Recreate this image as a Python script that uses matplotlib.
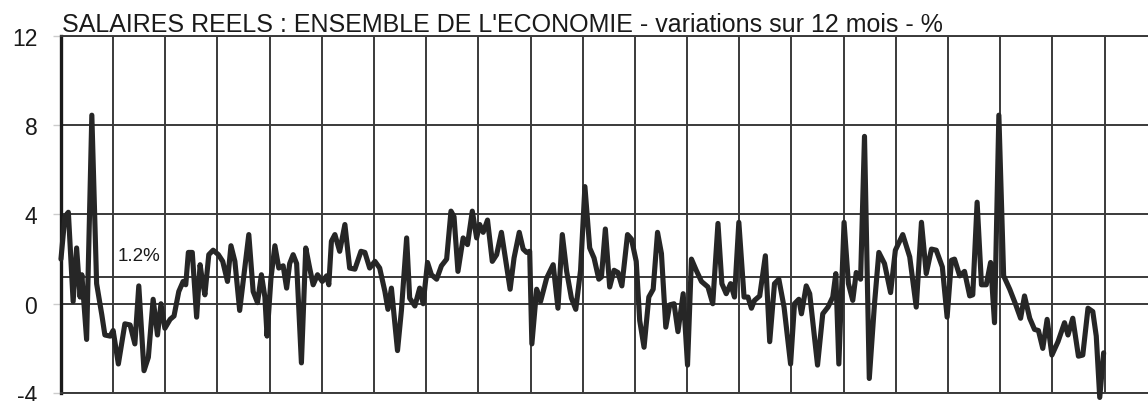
import matplotlib
matplotlib.use("Agg")
import matplotlib.pyplot as plt

plt.rcParams["font.family"] = ["Liberation Sans", "DejaVu Sans"]
plt.rcParams["axes.unicode_minus"] = False

# months since start of the series and the 12-month change in %
months = [0, 0.9, 1.7, 2.8, 3.6, 4.4, 4.8, 5.9, 7.1, 8.2, 9.4, 10.1, 11.3, 12.0, 13.2,
          14.7, 15.9, 17.0, 17.9, 19.1, 20.1, 21.2, 22.2, 23.0, 23.9, 25.1, 26.0, 27.1,
          28.1, 28.7, 29.3, 30.2, 31.2, 32.0, 32.4, 33.1, 34.0, 35.0, 36.2, 37.2, 38.3,
          39.1, 40.0, 41.1, 42.1, 43.2, 44.2, 45.2, 46.1, 46.9, 47.4, 48.3, 49.2, 50.1,
          51.1, 51.9, 52.6, 53.4, 54.2, 55.3, 56.3, 57.2, 58.0, 59.0, 60.1, 61.1, 61.6,
          62.2, 63.0, 64.1, 65.3, 66.4, 67.6, 69.0, 69.9, 71.0, 72.2, 73.3, 74.5, 75.2,
          76.0, 77.4, 78.3, 79.5, 80.2, 81.4, 82.5, 83.3, 84.3, 85.2, 86.4, 87.5, 88.7,
          89.7, 90.4, 91.3, 92.5, 93.5, 94.6, 95.6, 96.3, 97.1, 98.1, 99.2, 100.2, 101.3,
          102.2, 103.3, 104.2, 105.4, 106.3, 107.1, 107.8, 108.3, 109.4, 110.3, 111.7,
          113.2, 114.3, 115.3, 116.3, 117.4, 118.4, 119.5, 120.5, 121.6, 122.6, 123.7,
          124.3, 125.2, 126.2, 127.2, 128.1, 129.0, 130.3, 131.2, 132.3, 133.1, 134.1,
          135.2, 136.2, 137.2, 138.1, 139.1, 140.0, 141.0, 141.9, 143.1, 144.1, 145.0,
          146.1, 147.3, 148.8, 149.9, 151.1, 152.0, 153.0, 154.0, 154.9, 155.9, 157.1,
          158.0, 158.8, 159.5, 160.7, 162.0, 163.0, 164.1, 165.1, 166.3, 167.8, 168.7,
          169.7, 170.3, 171.4, 172.2, 174.0, 175.2, 176.4, 177.5, 178.2, 178.9, 180.1,
          181.1, 182.1, 182.9, 183.9, 184.8, 185.9, 187.1, 188.1, 189.4, 190.8, 191.9,
          193.6, 195.2, 196.7, 197.9, 199.0, 200.2, 201.3, 202.7, 203.8, 204.8, 205.5,
          206.7, 207.8, 209.0, 209.7, 210.7, 211.7, 212.8, 213.8, 214.7, 215.7, 216.8,
          218.2, 219.5, 220.7, 221.6, 222.8, 223.9, 224.8, 225.8, 226.8, 227.9, 229.3,
          230.8, 231.6, 232.7, 234.0, 235.0, 236.2, 237.3, 238.1, 238.9, 239.8]
values = [2.0, 3.9, 4.1, 0.1, 2.5, 0.3, 1.3, -1.6, 8.45, 0.9, -0.5, -1.4, -1.45, -1.2, -2.7,
          -0.9, -0.95, -1.8, 0.8, -3.0, -2.4, 0.2, -1.4, 0.0, -1.1, -0.7, -0.55, 0.55,
          1.0, 0.85, 2.3, 2.3, -0.6, 1.75, 1.2, 0.4, 2.2, 2.4, 2.2, 1.9, 1.0,
          2.6, 1.9, -0.3, 1.3, 3.1, 0.55, 0.05, 1.3, 0.3, -1.45, 1.15, 2.6, 1.6,
          1.7, 0.7, 1.8, 2.2, 1.8, -2.65, 2.5, 1.6, 0.85, 1.3, 1.0, 1.25, 0.85,
          2.8, 3.1, 2.35, 3.55, 1.6, 1.55, 2.35, 2.3, 1.6, 1.9, 1.6, 0.55, -0.25,
          0.7, -2.1, -0.3, 2.95, 0.25, -0.1, 0.7, 0.0, 1.85, 1.3, 1.1, 1.7, 2.0,
          4.15, 3.9, 1.45, 2.95, 2.65, 4.15, 2.95, 3.55, 3.2, 3.75, 1.9, 2.2, 3.2,
          2.05, 0.65, 2.05, 3.2, 2.45, 2.3, 2.35, -1.8, 0.65, 0.1, 1.15,
          1.75, -0.2, 3.1, 1.45, 0.25, -0.25, 1.5, 5.25, 2.5, 2.05, 1.1,
          1.2, 3.35, 0.75, 1.5, 1.4, 0.8, 3.1, 2.9, 1.9, -0.75, -1.95,
          0.3, 0.65, 3.2, 2.25, -1.05, -0.05, 0.0, -1.25, 0.45, -2.75, 2.0,
          1.5, 1.0, 0.75, 0.0, 3.6, 0.9, 0.45, 0.9, 0.3, 3.65, 0.3,
          0.3, -0.2, 0.15, 0.35, 2.15, -1.7, 0.9, 1.1, -0.15, -2.7, 0.0,
          0.2, -0.45, 0.8, 0.45, -2.75, -0.45, -0.15, 0.3, 1.35, -2.7, 3.65,
          0.9, 0.15, 1.4, 1.1, 7.5, -3.35, 0.0, 2.3, 1.8, 0.5, 2.4,
          3.1, 2.1, -0.15, 3.65, 1.35, 2.45, 2.4, 1.65, -0.6, 1.95, 2.0,
          1.25, 1.45, 0.35, 0.4, 4.55, 0.85, 0.85, 1.85, -0.85, 8.45, 1.25,
          0.65, 0.0, -0.65, 0.35, -0.65, -1.15, -1.2, -2.0, -0.7, -2.3, -1.7,
          -0.85, -1.4, -0.65, -2.35, -2.3, -0.2, -0.35, -1.45, -4.2, -2.2]

reference_level = 1.2
y_ticks = [-4, 0, 4, 8, 12]
title = "SALAIRES REELS : ENSEMBLE DE L'ECONOMIE - variations sur 12 mois - %"

fig = plt.figure(figsize=(11.48, 4.02), dpi=100)
ax = fig.add_axes([0.0531, 0.0199, 0.9469, 0.8881])

grid_col = "#3a3a3a"
ax.set_xlim(0, 250)
ax.set_ylim(-4, 12)
ax.set_yticks(y_ticks)
ax.set_xticks(range(0, 250, 12))
ax.set_xticklabels([])
ax.tick_params(axis="x", length=0)
ax.tick_params(axis="y", length=6, width=1, color="#cccccc", pad=11,
               labelsize=16.5, labelcolor="#1a1a1a")
ax.grid(True, color=grid_col, linewidth=1.4)
ax.set_axisbelow(True)

ax.spines["right"].set_visible(False)
for side in ["top", "bottom"]:
    ax.spines[side].set_color(grid_col)
    ax.spines[side].set_linewidth(1.4)
ax.spines["left"].set_color("#1a1a1a")
ax.spines["left"].set_linewidth(2.4)

ax.axhline(reference_level, color=grid_col, linewidth=1.4, zorder=1)

ax.plot(months, values, color="#262626", linewidth=3.7, solid_joinstyle="round",
        solid_capstyle="round", clip_on=False, zorder=3)

ax.text(13, 2.15, "1.2%", fontsize=13.5, color="#1a1a1a", ha="left", va="center")

fig.text(62 / 1148, 1 - 32 / 402, title, fontsize=18, color="#1a1a1a",
         ha="left", va="baseline")

fig.savefig("out.png", dpi=100, facecolor="white")
